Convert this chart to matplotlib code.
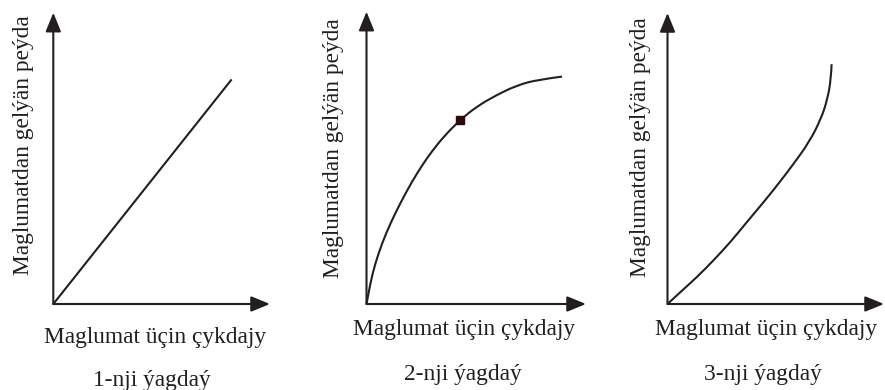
import matplotlib
matplotlib.use("Agg")
import matplotlib.pyplot as plt
from matplotlib.path import Path
from matplotlib.patches import PathPatch

# Profit from information vs. cost of information, three cases
x_label = "Maglumat üçin çykdajy"
y_label = "Maglumatdan gelýän peýda"
captions = ["1-nji ýagdaý", "2-nji ýagdaý", "3-nji ýagdaý"]

# Case 1: linear growth
case1_cost = [0, 82.3]
case1_profit = [0, 77.1]

# Case 2: diminishing returns, with the highlighted point
case2_cost = [0, 1.7, 4.0, 7.1, 10.9, 15.4, 20.8, 26.1, 29.9, 35.1, 42.7,
              50.3, 59.5, 68.6, 77.7, 89.1]
case2_profit = [0, 7.1, 13.9, 20.8, 27.6, 34.5, 42.0, 48.3, 52.3, 57.2, 63.0,
                67.6, 71.6, 74.8, 76.7, 77.8]
case2_point = (42.7, 63.0)

# Case 3: increasing returns
case3_cost = [0, 6.1, 13.7, 21.4, 29.1, 36.7, 44.4, 51.0, 57.8, 65.5, 70.9,
              73.9, 75.5, 75.8]
case3_profit = [0, 4.2, 9.3, 15.1, 21.3, 28.2, 35.0, 41.1, 47.7, 55.7, 63.6,
                70.4, 77.3, 82.4]

W, H = 885, 390
INK = "#231f20"
FONT = ["Liberation Serif", "DejaVu Serif"]
FS = 16.8

fig = plt.figure(figsize=(W / 100, H / 100), dpi=100)

# pixel frames of the panels: (origin x, arrow tip x, origin y, arrow tip y)
frames = [(53.3, 270, 304, 12.7), (366.5, 586, 304, 11.7), (667.5, 884, 304, 13)]
xlabel_pos = [(155, 343), (464, 335), (766, 335)]
caption_pos = [(152, 386), (463, 380), (763, 380)]
ylabel_pos = [(29, 145.5), (339.5, 148), (646, 147.5)]

series = [(case1_cost, case1_profit), (case2_cost, case2_profit),
          (case3_cost, case3_profit)]

arrow = dict(arrowstyle="-|>,head_length=1.15,head_width=0.47",
             mutation_scale=10, lw=1.5, color=INK, shrinkA=0, shrinkB=0)


def smooth_path(xs, ys):
    """Quadratic-spline path through the sampled points (rendered by matplotlib)."""
    pts = list(zip(xs, ys))
    if len(pts) < 3:
        return Path(pts)
    verts = [pts[0]]
    codes = [Path.MOVETO]
    for i in range(1, len(pts) - 1):
        ctrl = pts[i]
        if i < len(pts) - 2:
            end = ((pts[i][0] + pts[i + 1][0]) / 2, (pts[i][1] + pts[i + 1][1]) / 2)
        else:
            end = pts[i + 1]
        verts += [ctrl, end]
        codes += [Path.CURVE3, Path.CURVE3]
    return Path(verts, codes)


for i, (x0, x1, y0, y1) in enumerate(frames):
    ax = fig.add_axes([x0 / W, 1 - y0 / H, (x1 - x0) / W, (y0 - y1) / H])
    ax.set_xlim(0, 100)
    ax.set_ylim(0, 100)
    ax.axis("off")
    ax.annotate("", xy=(100, 0), xytext=(0, 0), arrowprops=arrow,
                annotation_clip=False)
    ax.annotate("", xy=(0, 100), xytext=(0, 0), arrowprops=arrow,
                annotation_clip=False)
    xs, ys = series[i]
    ax.add_patch(PathPatch(smooth_path(xs, ys), facecolor="none",
                           edgecolor=INK, lw=1.5, capstyle="butt",
                           clip_on=False))
    if i == 1:
        ax.plot([case2_point[0]], [case2_point[1]], marker="s", ms=6,
                color="#2a0a0a", clip_on=False, zorder=5)

    fig.text(xlabel_pos[i][0] / W, 1 - xlabel_pos[i][1] / H, x_label,
             ha="center", va="baseline", fontsize=FS, family=FONT, color=INK)
    fig.text(caption_pos[i][0] / W, 1 - caption_pos[i][1] / H, captions[i],
             ha="center", va="baseline", fontsize=FS, family=FONT, color=INK)
    fig.text(ylabel_pos[i][0] / W, 1 - ylabel_pos[i][1] / H, y_label,
             ha="center", va="baseline", rotation=90, rotation_mode="anchor",
             fontsize=FS, family=FONT, color=INK)

fig.savefig("out.png", dpi=100)
